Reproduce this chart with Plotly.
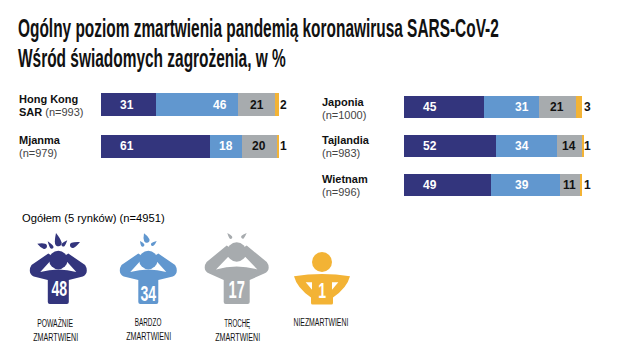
import json
import plotly.graph_objects as go

LEFT_N = ["n=993", "n=979"]
RIGHT_NAMES = ["Japonia", "Tajlandia", "Wietnam"]
RIGHT_N = ["n=1000", "n=983", "n=996"]
SEVERE_L = [31, 61]
VERY_L = [46, 18]
SOME_L = [21, 20]
NOT_L = [2, 1]
SEVERE_R = [45, 52, 49]
VERY_R = [31, 34, 39]
SOME_R = [21, 14, 11]
NOT_R = [3, 1, 1]
OVERALL = [48, 34, 17, 1]
ICON_LINES = [["POWAŻNIE", "ZMARTWIENI"], ["BARDZO", "ZMARTWIENI"], ["TROCHĘ", "ZMARTWIENI"], ["NIEZMARTWIENI"]]
TITLE_1 = "Ogólny poziom zmartwienia pandemią koronawirusa SARS-CoV-2"
TITLE_2 = "Wśród świadomych zagrożenia, w %"
OVERALL_TITLE = "Ogółem (5 rynków) (n=4951)"

COLORS = ["#33357d", "#6197cf", "#a7abae", "#f3b335"]
INK = "#111111"
SANS = "Liberation Sans, Arial, sans-serif"

fig = go.Figure()
def add_bars(values, cats, xa, ya):
    for v, c in zip(values, COLORS):
        fig.add_trace(go.Bar(y=cats, x=v, orientation="h", marker=dict(color=c, line=dict(width=0)),
                             xaxis=xa, yaxis=ya, showlegend=False, hoverinfo="skip"))

add_bars([SEVERE_L, VERY_L, SOME_L, NOT_L], LEFT_N, "x", "y")
add_bars([SEVERE_R, VERY_R, SOME_R, NOT_R], RIGHT_N, "x2", "y2")
fig.add_trace(go.Scatter(x=[0], y=[0], xaxis="x3", yaxis="y3", mode="markers",
                         marker=dict(opacity=0), showlegend=False, hoverinfo="skip"))

anns = []
def txt(x, y, s, size=11, color=INK, anchor="center", xref="x3", yref="y3"):
    anns.append(dict(x=x, y=y, xref=xref, yref=yref, text=s, showarrow=False, xanchor=anchor, yanchor="middle",
                     font=dict(size=size, color=color, family=SANS), align="left" if anchor == "left" else "center",
                     borderpad=0, borderwidth=0))

def bar_labels(sev, very, some, no, cats, xa, ya, sev_x, very_x, out_x):
    for i, c in enumerate(cats):
        txt(sev_x, c, f"<b>{sev[i]}</b>", 12, "white", xref=xa, yref=ya)
        vx = very_x if very[i] > 25 else sev[i] + very[i] / 2
        txt(vx, c, f"<b>{very[i]}</b>", 12, "white", xref=xa, yref=ya)
        txt(sev[i] + very[i] + some[i] / 2, c, f"<b>{some[i]}</b>", 12, INK, xref=xa, yref=ya)
        txt(out_x, c, f"<b>{no[i]}</b>", 12, INK, xref=xa, yref=ya)

bar_labels(SEVERE_L, VERY_L, SOME_L, NOT_L, LEFT_N, "x", "y", 14.7, 67, 102.3)
bar_labels(SEVERE_R, VERY_R, SOME_R, NOT_R, RIGHT_N, "x2", "y2", 15, 66.5, 103.2)

# Country labels
txt(19, 98.5, "<b>Hong Kong</b>", 11, anchor="left")
txt(19, 111.5, '<b>SAR</b> <span style="color:#444">(n=993)</span>', 11, anchor="left")
txt(19, 140, "<b>Mjanma</b>", 11, anchor="left")
txt(19, 153, '<span style="color:#444">(n=979)</span>', 11, anchor="left")
for name, n, y in zip(RIGHT_NAMES, RIGHT_N, [101.5, 140, 178.5]):
    txt(322, y, f"<b>{name}</b>", 11, anchor="left")
    txt(322, y + 13, f'<span style="color:#444">({n})</span>', 11, anchor="left")

txt(18, 28, f"<b>{TITLE_1}</b>", 25, "#111", "left")
txt(18, 58, f"<b>{TITLE_2}</b>", 25, "#111", "left")
txt(22, 217.5, OVERALL_TITLE, 11.2, "#000", "left")

shapes = []
def path(d, color):
    shapes.append(dict(type="path", path=d, xref="x3", yref="y3", fillcolor=color, line=dict(width=0), layer="above"))

def circle(cx, cy, r, color):
    shapes.append(dict(type="circle", xref="x3", yref="y3", x0=cx - r, x1=cx + r, y0=cy - r, y1=cy + r,
                       fillcolor=color, line=dict(width=0), layer="above"))

def drop(x, y, ex, ey, w, color):
    """Teardrop: tip at (x, y), round end centred at (ex, ey), radius w."""
    dx, dy = ex - x, ey - y
    n = (dx * dx + dy * dy) ** .5
    ux, uy = dx / n, dy / n
    px, py = -uy * w, ux * w
    bx, by = ux * w * 1.33, uy * w * 1.33
    path(f"M{x},{y} Q{ex + px - ux * w},{ey + py - uy * w} {ex + px},{ey + py} C{ex + px + bx},{ey + py + by} {ex - px + bx},{ey - py + by} "
         f"{ex - px},{ey - py} Q{ex - px - ux * w},{ey - py - uy * w} {x},{y} Z", color)

def worried(cx, hy, r, s, shirt, bottom, sh_y, ey, tip_x, tip_y, gap_x, ctop, cmid, arm_x, arm_y, color):
    """Person holding head. s = half span of elbows, sh_y = armpit y, ey = elbow y,
    tip/gap/ctop/cmid = white gap under the arms, arm = where the forearm meets the head."""
    d = (f"M{cx - shirt + 2},{bottom} Q{cx - shirt},{bottom} {cx - shirt},{bottom - 2} L{cx - shirt},{sh_y} "
         f"L{cx - s * .86},{ey + 6} Q{cx - s},{ey + 4} {cx - s},{ey} Q{cx - s},{ey - 3} {cx - s * .94},{ey - 5.5} "
         f"L{cx - arm_x},{arm_y} L{cx},{hy} L{cx + arm_x},{arm_y} L{cx + s * .94},{ey - 5.5} "
         f"Q{cx + s},{ey - 3} {cx + s},{ey} Q{cx + s},{ey + 4} {cx + s * .86},{ey + 6} L{cx + shirt},{sh_y} "
         f"L{cx + shirt},{bottom - 2} Q{cx + shirt},{bottom} {cx + shirt - 2},{bottom} Z")
    path(d, color)
    path(f"M{cx - tip_x},{tip_y} L{cx - gap_x},{ctop} L{cx + gap_x},{ctop} L{cx + tip_x},{tip_y} "
         f"Q{cx},{2 * cmid - tip_y} {cx - tip_x},{tip_y} Z", "white")
    circle(cx, hy, r, color)

# Icon 1: seriously worried
worried(58.3, 260, 9.2, 28.5, 10.5, 304, 280, 270.5, 18, 272, 8.5, 261.5, 269.5, 10, 253.5, COLORS[0])
drop(56, 233, 58.3, 243, 3.3, COLORS[0])
drop(47.7, 241.3, 51.7, 247, 1.8, COLORS[0])
drop(67.3, 240.3, 63.3, 244.7, 1.8, COLORS[0])
drop(37.3, 243.7, 44.3, 246.3, 2.7, COLORS[0])
drop(80, 242, 72.7, 245.3, 2.7, COLORS[0])
# Icon 2: very worried
worried(148.3, 260, 9.2, 28.5, 10, 304, 280, 270.5, 18, 272, 8.5, 261.5, 269.5, 10, 253.5, COLORS[1])
drop(144, 233.3, 146.7, 240, 2.8, COLORS[1])
drop(140, 241, 142.7, 245, 1.7, COLORS[1])
drop(156.7, 241, 152.7, 244.3, 1.7, COLORS[1])
# Icon 3: somewhat worried
worried(236.7, 252, 9.7, 32, 13, 304, 280, 267.5, 20.7, 269.5, 8.7, 257, 266.5, 10, 245.5, COLORS[2])
drop(227.3, 233, 230.7, 237.3, 1.6, COLORS[2])
drop(246.7, 233, 242.7, 237, 1.6, COLORS[2])
# Icon 4: not worried
c4 = 322
circle(c4, 262, 10, COLORS[3])
path(f"M{c4 - 28},276.3 Q{c4},271.5 {c4 + 28},276.3 Q{c4 + 25},288 {c4 + 11},297.5 L{c4 + 11},303 Q{c4 + 11},304.5 {c4 + 9.5},304.5 "
     f"L{c4 - 9.5},304.5 Q{c4 - 11},304.5 {c4 - 11},303 L{c4 - 11},297.5 Q{c4 - 25},288 {c4 - 28},276.3 Z", COLORS[3])
path(f"M{c4 - 16.3},282.3 L{c4 - 10},282.3 L{c4 - 10},289.7 Z", "white")
path(f"M{c4 + 16.3},282.3 L{c4 + 10},282.3 L{c4 + 10},289.7 Z", "white")

for v, x, y, sz in zip(OVERALL, [58.5, 148, 236.7, 322], [288, 293, 290, 290], [22, 22, 23, 22]):
    txt(x, y, f"<b>{v}</b>", sz, "white")

for lines, x, y in zip(ICON_LINES, [55, 148, 237, 321], [323, 322, 323, 322]):
    for j, s in enumerate(lines):
        txt(x, y + j * 14, s, 11, "#111")

# Axes run to 106 so the outside labels stay visible; 100 on the scale is the bar end.
L0, L1 = 101 / 640, (101 + 178 * 1.06) / 640
R0, R1 = 403.5 / 640, (403.5 + 178 * 1.06) / 640
fig.update_layout(
    width=640, height=360, autosize=False, margin=dict(l=0, r=0, t=0, b=0),
    paper_bgcolor="white", plot_bgcolor="rgba(0,0,0,0)", barmode="stack", bargap=0.44,
    annotations=anns, shapes=shapes,
    xaxis=dict(domain=[L0, L1], range=[0, 106], visible=False),
    yaxis=dict(domain=[0, 1], type="category", range=[(360 - 104.8) / 41.4, -104.8 / 41.4], visible=False),
    xaxis2=dict(domain=[R0, R1], range=[0, 106], visible=False),
    yaxis2=dict(domain=[0, 1], type="category", range=[(360 - 107) / 38.85, -107 / 38.85], visible=False, anchor="x2"),
    xaxis3=dict(domain=[0, 1], range=[0, 640], visible=False, anchor="y3"),
    yaxis3=dict(domain=[0, 1], range=[360, 0], visible=False, anchor="x3"),
)

# No condensed face is installed: squeeze these real text nodes horizontally.
WIDTHS = {TITLE_1: 481, TITLE_2: 268, "POWAŻNIE": 36, "BARDZO": 27, "TROCHĘ": 26, "ZMARTWIENI": 45, "NIEZMARTWIENI": 55}
post = """
document.documentElement.style.margin = '0';
document.body.style.margin = '0';
var W = %s;
document.querySelectorAll('.annotation-text').forEach(function (t) {
  var s = t.textContent, k = null, b = t.getBBox(), fs = parseFloat(t.style.fontSize);
  if (W[s]) k = W[s] / b.width;
  else if (fs === 22 || fs === 23) k = 0.64;
  if (k) {
    var x0 = (s.length > 20) ? b.x : b.x + b.width / 2;
    t.setAttribute('transform', 'translate(' + x0 + ',0) scale(' + k + ',1) translate(' + (-x0) + ',0)');
  }
});
""" % json.dumps(WIDTHS, ensure_ascii=False)
fig.write_html("out.html", post_script=post, config=dict(displayModeBar=False))
